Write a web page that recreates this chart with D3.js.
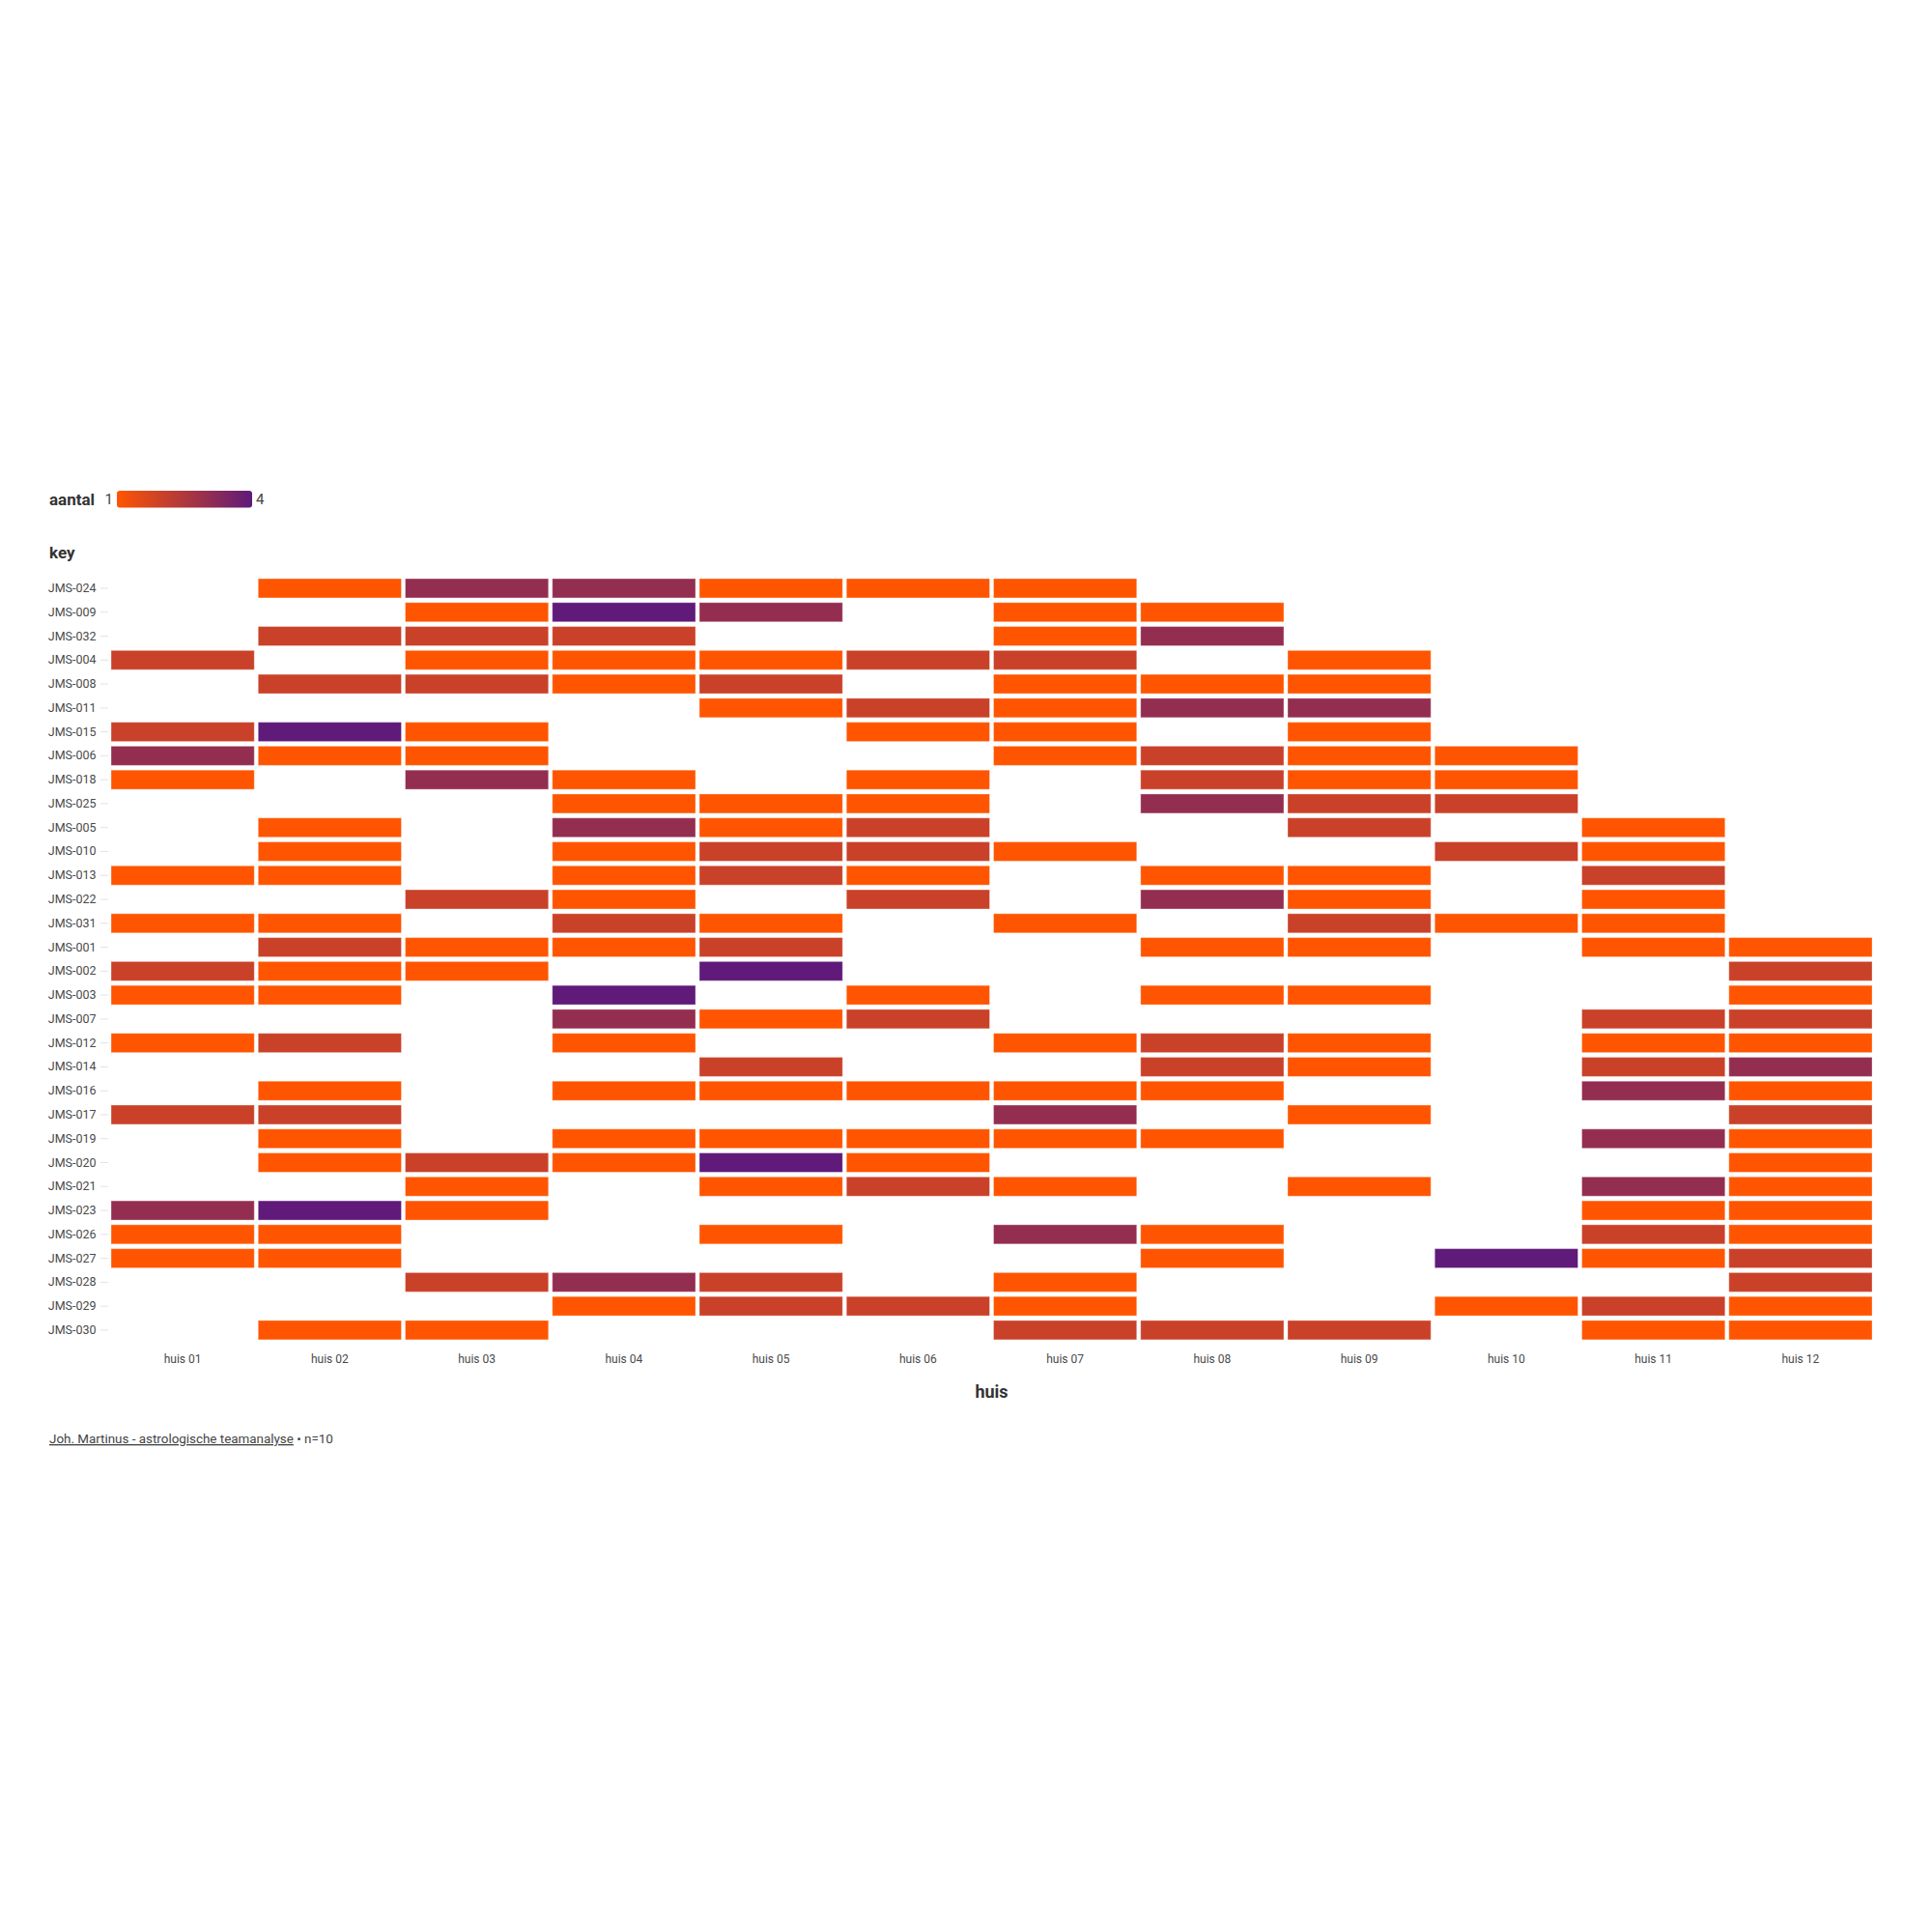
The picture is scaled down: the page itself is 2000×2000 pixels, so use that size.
<!DOCTYPE html>
<html>
<head>
<meta charset="utf-8">
<script src="https://cdn.jsdelivr.net/npm/d3@7"></script>
<style>
  html, body { margin: 0; padding: 0; background: #fff; }
  svg { display: block; font-family: Roboto, "Noto Sans", sans-serif; }
</style>
</head>
<body>
<div id="chart"></div>
<script>
// ---- data ----
const keys = ["JMS-024","JMS-009","JMS-032","JMS-004","JMS-008","JMS-011","JMS-015","JMS-006",
  "JMS-018","JMS-025","JMS-005","JMS-010","JMS-013","JMS-022","JMS-031","JMS-001",
  "JMS-002","JMS-003","JMS-007","JMS-012","JMS-014","JMS-016","JMS-017","JMS-019",
  "JMS-020","JMS-021","JMS-023","JMS-026","JMS-027","JMS-028","JMS-029","JMS-030"];
const houses = ["huis 01","huis 02","huis 03","huis 04","huis 05","huis 06",
  "huis 07","huis 08","huis 09","huis 10","huis 11","huis 12"];
// aantal per key (rows) and huis (columns); 0 = no cell
const counts = [
  [0,1,3,3,1,1,1,0,0,0,0,0], // JMS-024
  [0,0,1,4,3,0,1,1,0,0,0,0], // JMS-009
  [0,2,2,2,0,0,1,3,0,0,0,0], // JMS-032
  [2,0,1,1,1,2,2,0,1,0,0,0], // JMS-004
  [0,2,2,1,2,0,1,1,1,0,0,0], // JMS-008
  [0,0,0,0,1,2,1,3,3,0,0,0], // JMS-011
  [2,4,1,0,0,1,1,0,1,0,0,0], // JMS-015
  [3,1,1,0,0,0,1,2,1,1,0,0], // JMS-006
  [1,0,3,1,0,1,0,2,1,1,0,0], // JMS-018
  [0,0,0,1,1,1,0,3,2,2,0,0], // JMS-025
  [0,1,0,3,1,2,0,0,2,0,1,0], // JMS-005
  [0,1,0,1,2,2,1,0,0,2,1,0], // JMS-010
  [1,1,0,1,2,1,0,1,1,0,2,0], // JMS-013
  [0,0,2,1,0,2,0,3,1,0,1,0], // JMS-022
  [1,1,0,2,1,0,1,0,2,1,1,0], // JMS-031
  [0,2,1,1,2,0,0,1,1,0,1,1], // JMS-001
  [2,1,1,0,4,0,0,0,0,0,0,2], // JMS-002
  [1,1,0,4,0,1,0,1,1,0,0,1], // JMS-003
  [0,0,0,3,1,2,0,0,0,0,2,2], // JMS-007
  [1,2,0,1,0,0,1,2,1,0,1,1], // JMS-012
  [0,0,0,0,2,0,0,2,1,0,2,3], // JMS-014
  [0,1,0,1,1,1,1,1,0,0,3,1], // JMS-016
  [2,2,0,0,0,0,3,0,1,0,0,2], // JMS-017
  [0,1,0,1,1,1,1,1,0,0,3,1], // JMS-019
  [0,1,2,1,4,1,0,0,0,0,0,1], // JMS-020
  [0,0,1,0,1,2,1,0,1,0,3,1], // JMS-021
  [3,4,1,0,0,0,0,0,0,0,1,1], // JMS-023
  [1,1,0,0,1,0,3,1,0,0,2,1], // JMS-026
  [1,1,0,0,0,0,0,1,0,4,1,2], // JMS-027
  [0,0,2,3,2,0,1,0,0,0,0,2], // JMS-028
  [0,0,0,1,2,2,1,0,0,1,2,1], // JMS-029
  [0,1,1,0,0,0,2,2,2,0,1,1]  // JMS-030
];
const legendDomain = [1, 4];
const colorRange = ["#ff5500", "#5f1a7a"];

// ---- build cells ----
const cells = [];
counts.forEach((row, i) => row.forEach((v, j) => {
  if (v > 0) cells.push({ key: keys[i], huis: houses[j], aantal: v });
}));

const W = 2000, H = 2000;
const svg = d3.select("#chart").append("svg").attr("width", W).attr("height", H);

const x = d3.scaleBand().domain(houses).range([113, 1940]);
const y = d3.scaleBand().domain(keys).range([596.6, 1389.3]);
const color = d3.scaleLinear().domain(legendDomain).range(colorRange).interpolate(d3.interpolateRgb);

const insetX = 2, insetY = 2.4;

// cells
svg.append("g").selectAll("rect").data(cells).join("rect")
  .attr("x", d => x(d.huis) + insetX)
  .attr("y", d => y(d.key) + insetY)
  .attr("width", x.bandwidth() - 2 * insetX)
  .attr("height", y.bandwidth() - 2 * insetY)
  .attr("fill", d => color(d.aantal))
  .attr("stroke", "#fff")
  .attr("stroke-opacity", 0.35)
  .attr("stroke-width", 1);

// y axis
const yAxis = svg.append("g").attr("transform", "translate(112,0)")
  .call(d3.axisLeft(y).tickSize(8).tickPadding(4.5));
yAxis.select(".domain").remove();
yAxis.selectAll(".tick line").attr("stroke", "#e2e2e2");
yAxis.selectAll(".tick text").attr("font-size", 12.5).attr("fill", "#4a4a4a")
  .attr("font-family", "Roboto, sans-serif");

// x axis
const xAxis = svg.append("g").attr("transform", "translate(0,1389.3)")
  .call(d3.axisBottom(x).tickSize(0).tickPadding(13));
xAxis.select(".domain").remove();
xAxis.selectAll(".tick text").attr("font-size", 12).attr("fill", "#4a4a4a")
  .attr("font-family", "Roboto, sans-serif");

// x axis title
svg.append("text").attr("x", (113 + 1940) / 2).attr("y", 1447)
  .attr("text-anchor", "middle").attr("font-size", 18).attr("font-weight", 700)
  .attr("fill", "#333").text("huis");

// y axis title
svg.append("text").attr("x", 51).attr("y", 578)
  .attr("font-size", 17).attr("font-weight", 700).attr("fill", "#333").text("key");

// legend
svg.append("text").attr("x", 51).attr("y", 523)
  .attr("font-size", 17).attr("font-weight", 700).attr("fill", "#333").text("aantal");
const defs = svg.append("defs");
const grad = defs.append("linearGradient").attr("id", "lg").attr("x1", "0%").attr("x2", "100%");
d3.range(0, 1.0001, 0.1).forEach(t => {
  grad.append("stop").attr("offset", (t * 100) + "%")
    .attr("stop-color", color(legendDomain[0] + t * (legendDomain[1] - legendDomain[0])));
});
svg.append("rect").attr("x", 121).attr("y", 508).attr("width", 140).attr("height", 17.5)
  .attr("rx", 3).attr("fill", "url(#lg)");
svg.append("text").attr("x", 117).attr("y", 522).attr("text-anchor", "end")
  .attr("font-size", 15).attr("fill", "#444").text(legendDomain[0]);
svg.append("text").attr("x", 265).attr("y", 522)
  .attr("font-size", 15).attr("fill", "#444").text(legendDomain[1]);

// footer
const foot = svg.append("text").attr("x", 51).attr("y", 1494)
  .attr("font-size", 13.4).attr("fill", "#444");
foot.append("tspan").attr("text-decoration", "underline")
  .style("text-decoration", "underline").text("Joh. Martinus - astrologische teamanalyse");
foot.append("tspan").text(" \u2022 n=10");
</script>
</body>
</html>
